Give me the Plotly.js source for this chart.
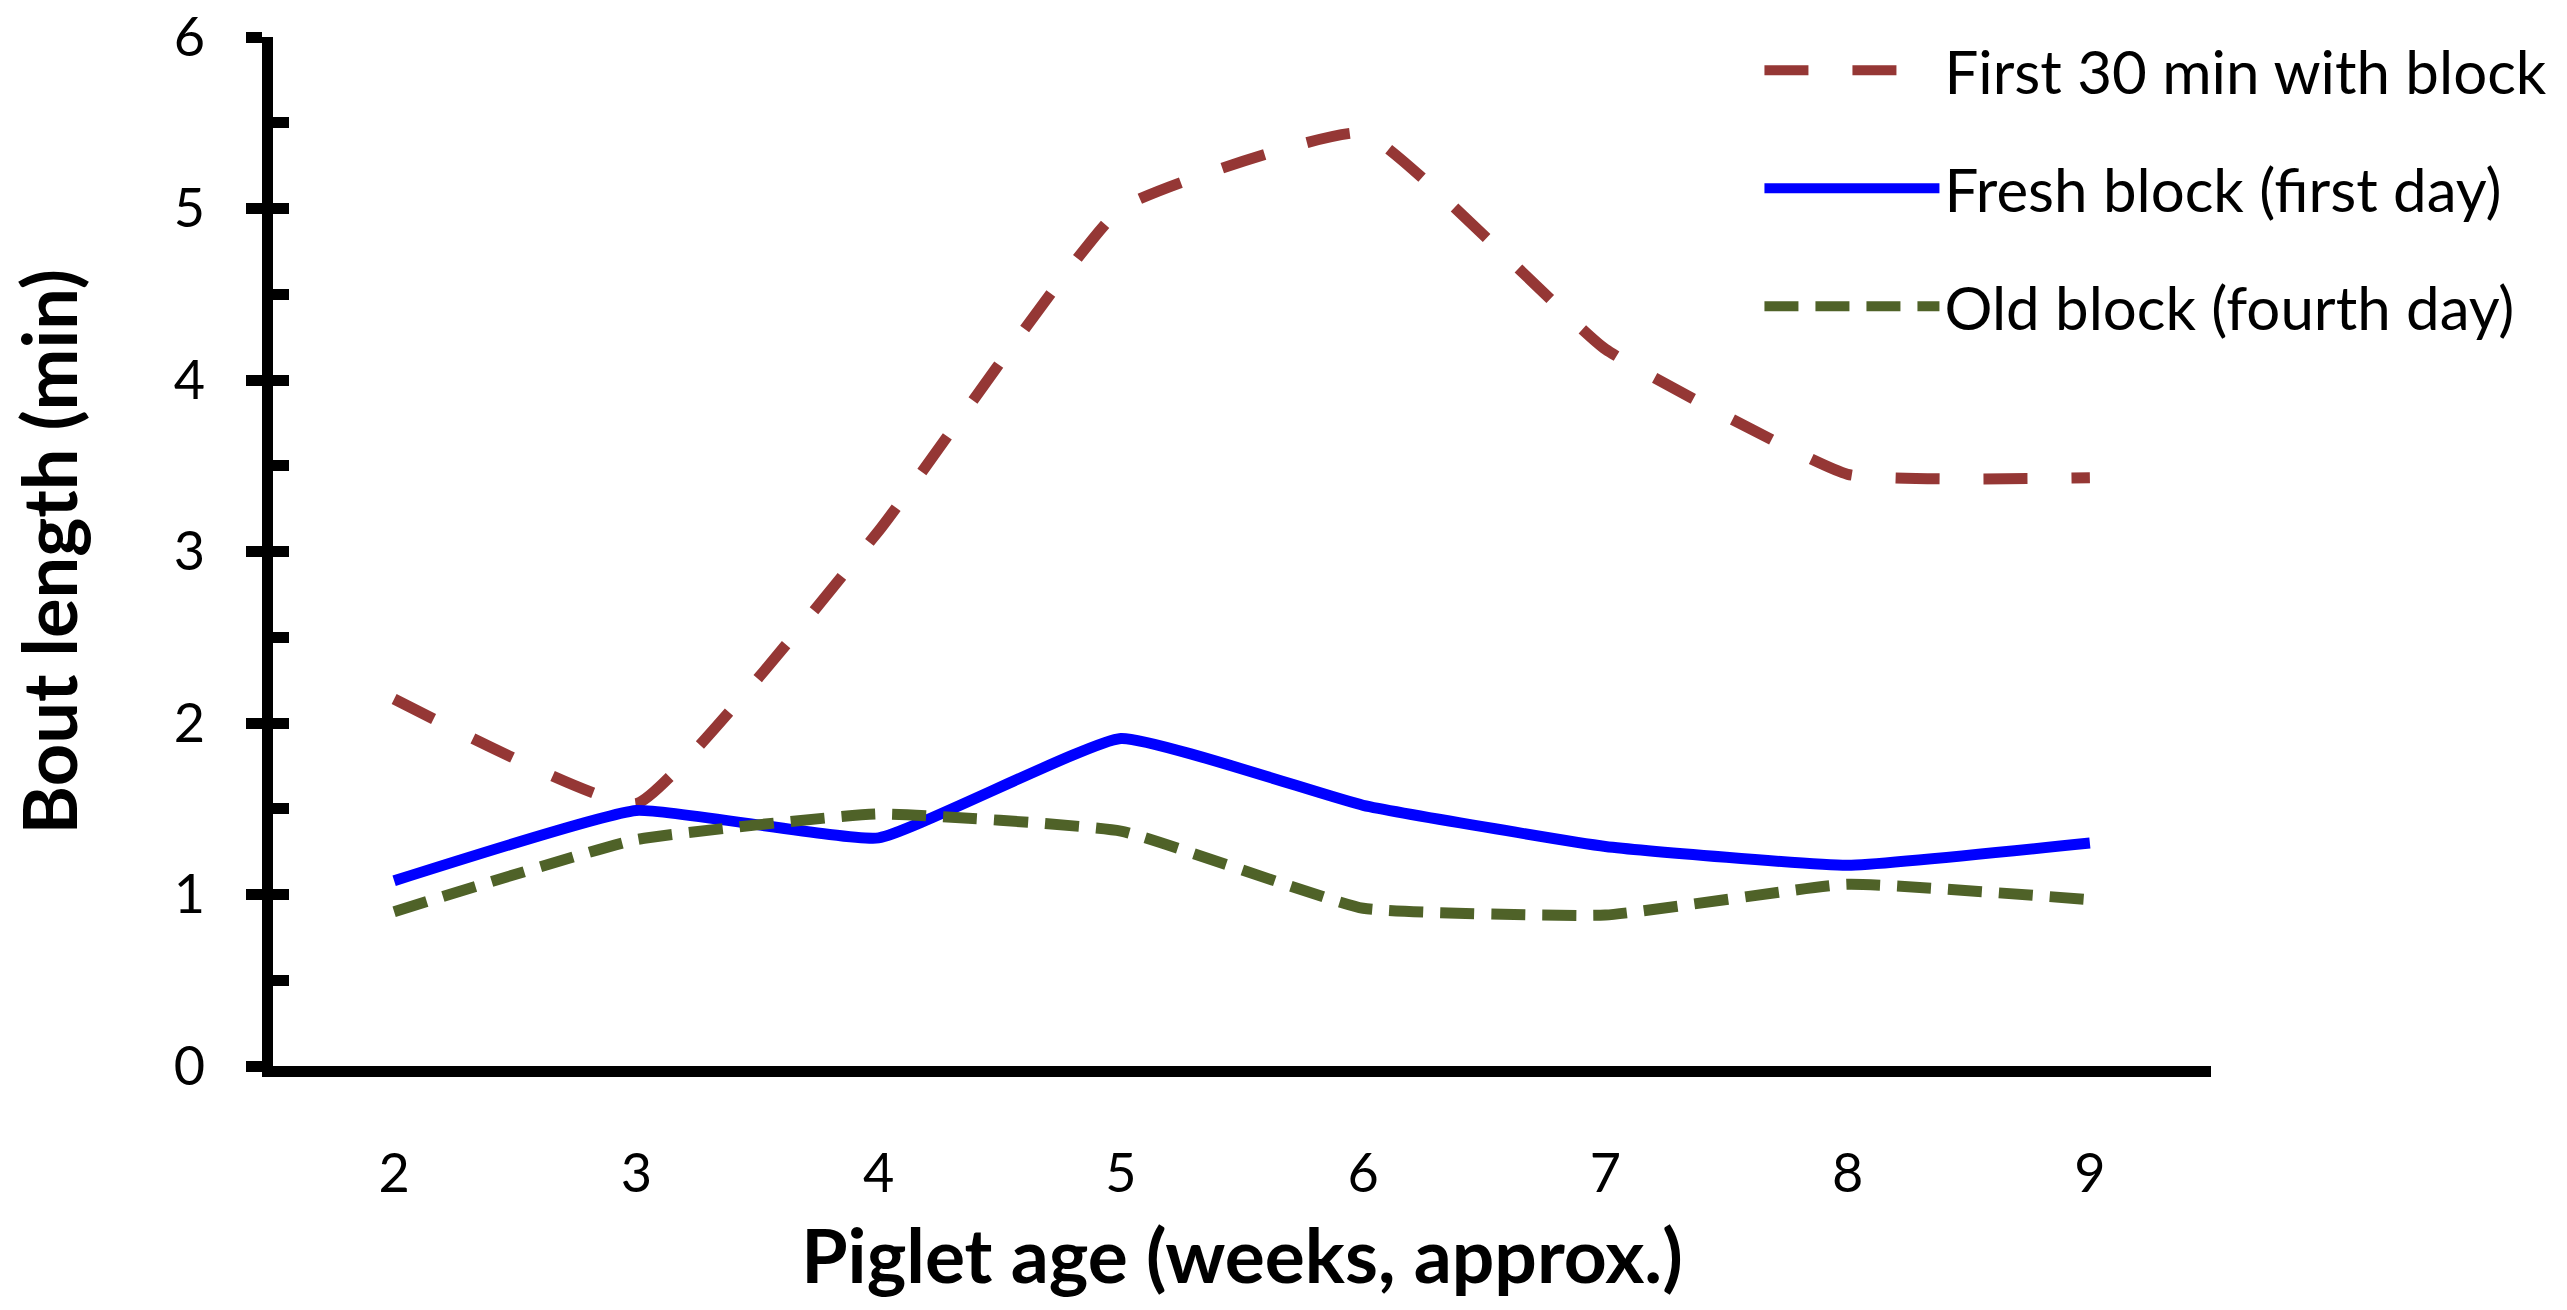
<!DOCTYPE html>
<html>
<head>
<meta charset="utf-8">
<script src="https://cdn.plot.ly/plotly-3.0.1.min.js"></script>
<style>html,body{margin:0;padding:0;background:#fff;}#chart{width:2567px;height:1310px;}</style>
</head>
<body>
<div id="chart"></div>
<script>
// Data
const ages = [2, 3, 4, 5, 6, 7, 8, 9];
const first30min = [2.14, 1.53, 3.12, 5.0, 5.44, 4.18, 3.45, 3.43];
const freshBlock = [1.08, 1.49, 1.33, 1.91, 1.52, 1.28, 1.17, 1.30];
const oldBlock = [0.90, 1.32, 1.47, 1.37, 0.92, 0.88, 1.06, 0.97];
const seriesNames = ['First 30 min with block', 'Fresh block (first day)', 'Old block (fourth day)'];
const yTicks = [0, 1, 2, 3, 4, 5, 6];
const xTitle = 'Piglet age (weeks, approx.)';
const yTitle = 'Bout length (min)';

const FONT = 'Lato, Carlito, Calibri, "Open Sans", sans-serif';
const SMOOTH = 0.35;

const traces = [
  {x: ages, y: first30min, name: seriesNames[0], type: 'scatter', mode: 'lines', legendgroup: 'a',
   line: {color: '#953735', width: 11, dash: '44px,44px', shape: 'spline', smoothing: SMOOTH}},
  {x: ages, y: freshBlock, name: seriesNames[1], type: 'scatter', mode: 'lines', legendgroup: 'b',
   line: {color: '#0000FF', width: 11, shape: 'spline', smoothing: SMOOTH}},
  {x: ages, y: oldBlock, name: seriesNames[2], type: 'scatter', mode: 'lines', legendgroup: 'c',
   line: {color: '#4F6228', width: 11, dash: '34px,17px', shape: 'spline', smoothing: SMOOTH}},
  {x: [], y: [], yaxis: 'y2', showlegend: false, hoverinfo: 'skip', type: 'scatter', mode: 'lines'}
];

const layout = {
  width: 2567, height: 1310,
  paper_bgcolor: '#ffffff', plot_bgcolor: '#ffffff',
  margin: {l: 273, r: 356, t: 37, b: 244},
  font: {family: FONT, color: '#000000', size: 54},
  showlegend: true,
  legend: {
    x: 0.767, xanchor: 'left', y: 1.012, yanchor: 'top',
    bgcolor: 'rgba(0,0,0,0)', borderwidth: 0,
    font: {family: FONT, size: 60, color: '#000000'},
    traceorder: 'grouped', tracegroupgap: 37, itemwidth: 175
  },
  xaxis: {
    range: [1.5, 9.5], tickmode: 'array', tickvals: ages, ticktext: ages.map(String),
    showgrid: false, zeroline: false,
    showline: true, linecolor: '#000000', linewidth: 11,
    ticks: '', ticklabelstandoff: 50,
    tickfont: {family: FONT, size: 54, color: '#000000'},
    title: {text: '<b>' + xTitle + '</b>', font: {family: FONT, size: 75, color: '#000000'}, standoff: 32}
  },
  yaxis: {
    range: [0, 6], tickmode: 'array', tickvals: yTicks, ticktext: yTicks.map(String),
    showgrid: false, zeroline: false,
    showline: true, linecolor: '#000000', linewidth: 11,
    ticks: 'outside', ticklen: 16, tickwidth: 11, tickcolor: '#000000',
    ticklabelstandoff: 30,
    tickfont: {family: FONT, size: 54, color: '#000000'}
  },
  yaxis2: {
    overlaying: 'y', side: 'left', anchor: 'x', range: [0, 6], dtick: 0.5, tick0: 0,
    showgrid: false, zeroline: false, showline: false, showticklabels: false,
    ticks: 'inside', ticklen: 16, tickwidth: 11, tickcolor: '#000000'
  },
  annotations: [{
    text: '<b>' + yTitle + '</b>', textangle: -90,
    xref: 'paper', yref: 'paper', x: -0.1156, y: 0.5, xanchor: 'center', yanchor: 'middle',
    showarrow: false, font: {family: FONT, size: 74, color: '#000000'}
  }]
};

Plotly.newPlot('chart', traces, layout, {displayModeBar: false, staticPlot: true});
</script>
</body>
</html>
